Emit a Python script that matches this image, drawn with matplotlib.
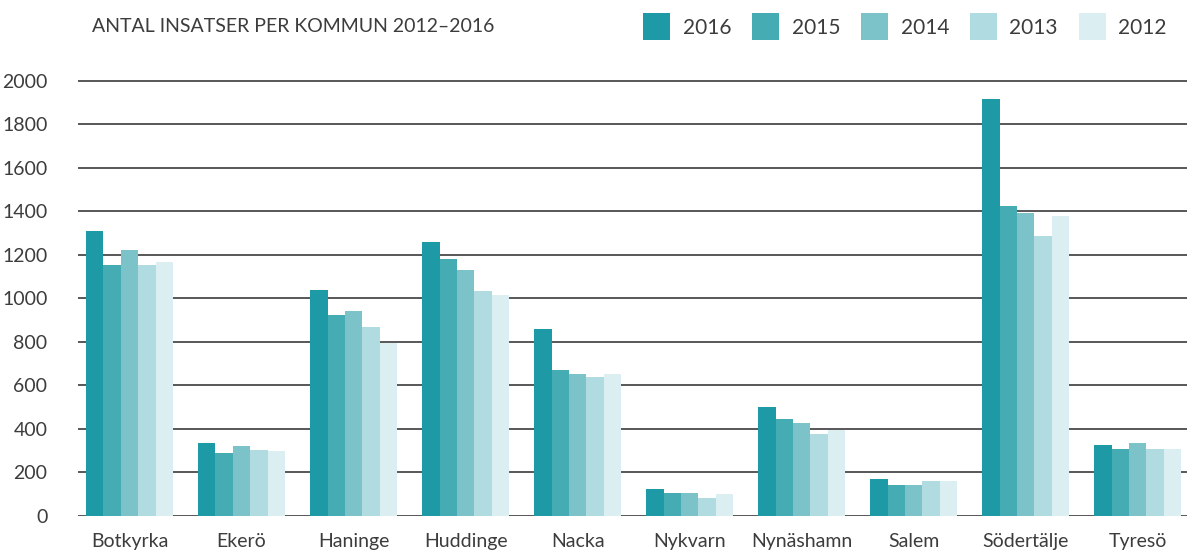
# stapeldiagram: antal insatser per kommun 2012-2016
import numpy as np
import matplotlib.pyplot as plt
from matplotlib.patches import Patch

plt.rcParams['font.family'] = ['Lato', 'DejaVu Sans']

# data
kommuner = ["Botkyrka", "Ekerö", "Haninge", "Huddinge", "Nacka",
            "Nykvarn", "Nynäshamn", "Salem", "Södertälje", "Tyresö"]
years = ["2016", "2015", "2014", "2013", "2012"]
v2016 = [1310, 337, 1039, 1261, 860, 126, 503, 172, 1916, 328]
v2015 = [1154, 288, 926, 1180, 671, 104, 448, 143, 1425, 310]
v2014 = [1223, 320, 944, 1131, 651, 104, 426, 143, 1395, 334]
v2013 = [1154, 305, 867, 1036, 638, 84, 376, 159, 1287, 310]
v2012 = [1168, 300, 794, 1016, 654, 100, 395, 159, 1380, 310]
series = [v2016, v2015, v2014, v2013, v2012]
yticks = [0, 200, 400, 600, 800, 1000, 1200, 1400, 1600, 1800, 2000]

colors = ["#1e9aa6", "#45acb3", "#7bc3c8", "#b0dbe0", "#dbeef2"]
txt = "#3c3c3c"

fig = plt.figure(figsize=(11.87, 5.56), dpi=100)
ax = fig.add_axes([0.0657, 0.072, 0.9343, 0.802])

x = np.arange(len(kommuner))
w = 0.155
for i, vals in enumerate(series):
    ax.bar(x + (i - 2) * w, vals, width=w, color=colors[i], zorder=2)

ax.set_xlim(-0.46, 9.44)
ax.set_ylim(0, 2050)
ax.set_yticks(yticks)
ax.set_yticklabels([str(t) for t in yticks], fontsize=14, color=txt)
ax.set_xticks(x)
ax.set_xticklabels(kommuner, fontsize=14, color=txt)
ax.tick_params(axis="y", length=0, pad=22)
ax.tick_params(axis="x", length=0, pad=12)
ax.grid(axis="y", color="#2a2a2a", linewidth=1.1, zorder=1)
ax.set_axisbelow(True)
for s in ax.spines.values():
    s.set_visible(False)

# titel och förklaring
fig.text(0.0775, 0.952, "ANTAL INSATSER PER KOMMUN 2012–2016",
         fontsize=14, color=txt, va="center", ha="left")
handles = [Patch(facecolor=c, edgecolor="none") for c in colors]
fig.legend(handles, years, loc="center left", bbox_to_anchor=(0.526, 0.952),
           ncol=5, frameon=False, fontsize=15, handlelength=1.3,
           handleheight=1.6, handletextpad=0.6, columnspacing=1.0,
           labelcolor=txt)

plt.savefig("out.png", dpi=100)
